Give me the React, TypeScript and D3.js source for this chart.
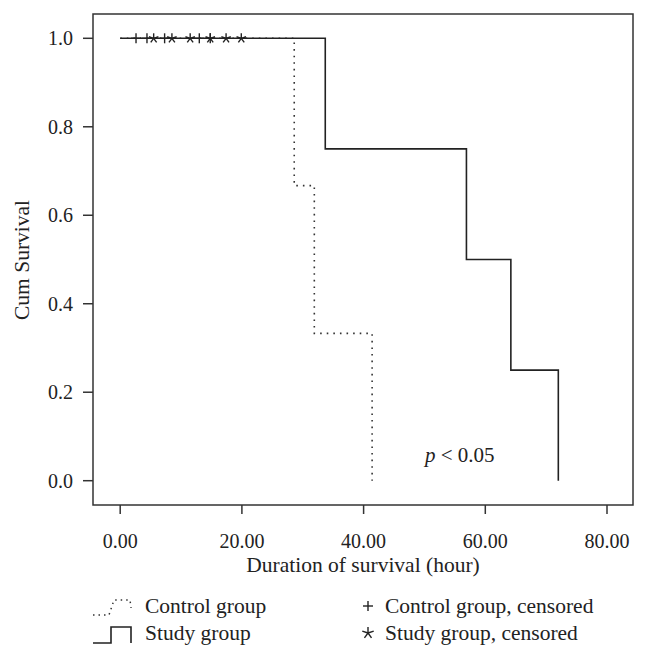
import React, { useEffect, useRef } from 'react';
import * as d3 from 'd3';

// step curves: [time (hour), cum survival after the step]
const controlSteps = [
  { t: 0, s: 1.0 },
  { t: 28.6, s: 0.667 },
  { t: 31.9, s: 0.333 },
  { t: 41.4, s: 0.0 },
];
const studySteps = [
  { t: 0, s: 1.0 },
  { t: 33.7, s: 0.75 },
  { t: 56.9, s: 0.5 },
  { t: 64.2, s: 0.25 },
  { t: 72.0, s: 0.0 },
];
const controlCensored = [2.6, 4.4, 7.3, 13.0, 14.8];
const studyCensored = [5.5, 8.5, 11.5, 14.8, 17.4, 19.9];

const xTicks = [0, 20, 40, 60, 80];
const yTicks = [0, 0.2, 0.4, 0.6, 0.8, 1.0];

const FONT = '"Liberation Serif", "DejaVu Serif", serif';

const App: React.FC = () => {
  const svgRef = useRef<SVGSVGElement>(null);

  useEffect(() => {
    if (!svgRef.current) return;
    const svg = d3.select(svgRef.current);
    svg.selectAll('*').remove();

    const frame = { left: 93, right: 633, top: 14, bottom: 505 };
    const x = d3.scaleLinear().domain([0, 80]).range([120.2, 607]);
    const y = d3.scaleLinear().domain([0, 1]).range([480.7, 38.3]);
    const ink = '#222';

    // frame
    svg.append('rect')
      .attr('x', frame.left)
      .attr('y', frame.top)
      .attr('width', frame.right - frame.left)
      .attr('height', frame.bottom - frame.top)
      .attr('fill', 'none')
      .attr('stroke', '#333')
      .attr('stroke-width', 1.5);

    // y axis
    yTicks.forEach(v => {
      svg.append('line')
        .attr('x1', frame.left - 10).attr('x2', frame.left)
        .attr('y1', y(v)).attr('y2', y(v))
        .attr('stroke', '#333').attr('stroke-width', 1.5);
      svg.append('text')
        .attr('x', 73).attr('y', y(v) + 7)
        .attr('text-anchor', 'end')
        .style('font-family', FONT).style('font-size', '20px')
        .attr('fill', ink)
        .text(d3.format('.1f')(v));
    });

    // x axis
    xTicks.forEach(v => {
      svg.append('line')
        .attr('x1', x(v)).attr('x2', x(v))
        .attr('y1', frame.bottom).attr('y2', frame.bottom + 9)
        .attr('stroke', '#333').attr('stroke-width', 1.5);
      svg.append('text')
        .attr('x', x(v)).attr('y', 548)
        .attr('text-anchor', 'middle')
        .style('font-family', FONT).style('font-size', '20px')
        .attr('fill', ink)
        .text(d3.format('.2f')(v));
    });

    svg.append('text')
      .attr('x', 363).attr('y', 572)
      .attr('text-anchor', 'middle')
      .style('font-family', FONT).style('font-size', '21.5px')
      .attr('fill', ink)
      .text('Duration of survival (hour)');

    svg.append('text')
      .attr('transform', 'translate(29, 260) rotate(-90)')
      .attr('text-anchor', 'middle')
      .style('font-family', FONT).style('font-size', '21.5px')
      .attr('fill', ink)
      .text('Cum Survival');

    // step lines
    const line = d3.line<{ t: number; s: number }>()
      .x(d => x(d.t))
      .y(d => y(d.s))
      .curve(d3.curveStepAfter);

    svg.append('path')
      .datum(controlSteps)
      .attr('d', line)
      .attr('fill', 'none')
      .attr('stroke', '#333')
      .attr('stroke-width', 1.6)
      .attr('stroke-dasharray', '1.6,5');

    svg.append('path')
      .datum(studySteps)
      .attr('d', line)
      .attr('fill', 'none')
      .attr('stroke', ink)
      .attr('stroke-width', 1.6);

    // censor marks
    const plusMark = (g: any, cx: number, cy: number, r: number) => {
      g.append('line').attr('x1', cx).attr('x2', cx).attr('y1', cy - r).attr('y2', cy + r)
        .attr('stroke', ink).attr('stroke-width', 1.4);
      g.append('line').attr('x1', cx - r).attr('x2', cx + r).attr('y1', cy).attr('y2', cy)
        .attr('stroke', ink).attr('stroke-width', 1.4);
    };
    const starMark = (g: any, cx: number, cy: number, r: number) => {
      d3.range(5).forEach(i => {
        const a = -Math.PI / 2 + i * 2 * Math.PI / 5;
        g.append('line')
          .attr('x1', cx).attr('y1', cy)
          .attr('x2', cx + r * Math.cos(a)).attr('y2', cy + r * Math.sin(a))
          .attr('stroke', ink).attr('stroke-width', 1.4);
      });
    };

    controlCensored.forEach(t => plusMark(svg, x(t), y(1), 5));
    studyCensored.forEach(t => starMark(svg, x(t), y(1), 5));

    // p value
    const pText = svg.append('text')
      .attr('x', 425).attr('y', 462)
      .style('font-family', FONT).style('font-size', '21px')
      .attr('fill', ink);
    pText.append('tspan').style('font-style', 'italic').text('p');
    pText.append('tspan').text(' < 0.05');

    // legend
    const lg = svg.append('g');
    lg.append('path')
      .attr('d', 'M93,615 L109,615 L114,600 L130,600 L131,608')
      .attr('fill', 'none').attr('stroke', '#333').attr('stroke-width', 1.5)
      .attr('stroke-dasharray', '1.5,4');
    lg.append('path')
      .attr('d', 'M93,643 L111,643 L111,627 L131,627 L131,643')
      .attr('fill', 'none').attr('stroke', ink).attr('stroke-width', 1.6);
    const legendText = (tx: number, ty: number, s: string) =>
      lg.append('text').attr('x', tx).attr('y', ty)
        .style('font-family', FONT).style('font-size', '21.5px').attr('fill', ink)
        .text(s);
    legendText(145, 613, 'Control group');
    legendText(145, 640, 'Study group');
    plusMark(lg, 368, 606, 5);
    starMark(lg, 368, 633, 6);
    legendText(385, 613, 'Control group, censored');
    legendText(385, 640, 'Study group, censored');
  }, []);

  return (
    <div style={{ position: 'absolute', left: 0, top: 0 }}>
      <svg ref={svgRef} width={648} height={659} style={{ display: 'block' }} />
    </div>
  );
};

export default App;
